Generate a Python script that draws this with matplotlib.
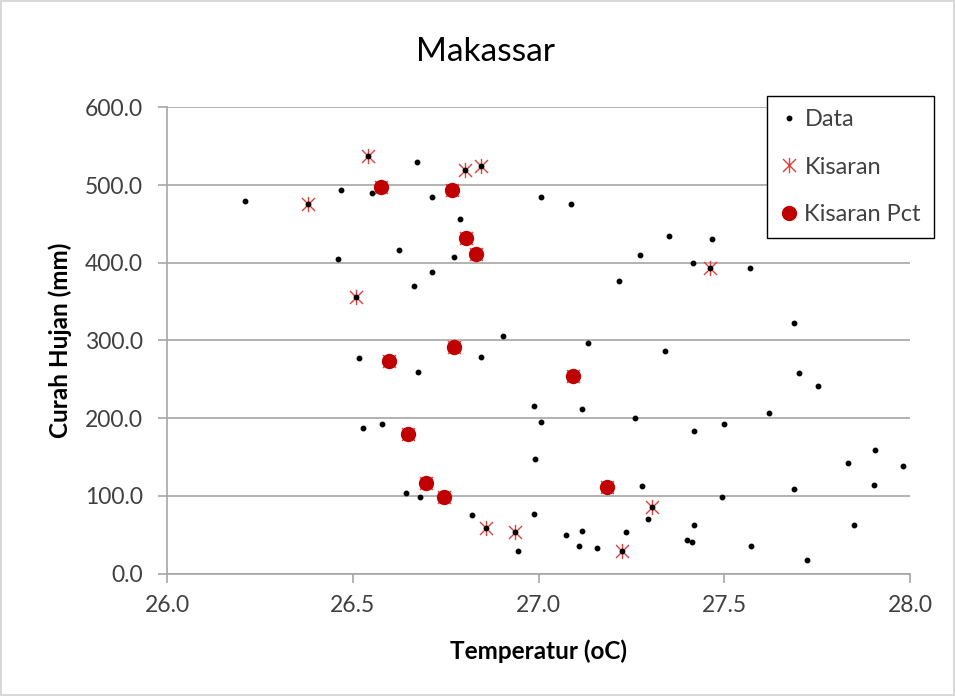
import matplotlib
matplotlib.use('Agg')
import matplotlib.pyplot as plt
from matplotlib.path import Path
import numpy as np

plt.rcParams['font.family'] = ['Lato', 'DejaVu Sans']

# data bulanan: temperatur (oC) dan curah hujan (mm)
data_temp = [26.209, 26.378, 26.469, 26.552, 26.576, 26.541, 26.672, 26.624, 26.459, 26.663,
             26.508, 26.802, 26.845, 26.766, 26.714, 27.005, 27.087, 26.787, 26.804, 26.831,
             26.773, 26.714, 27.215, 27.274, 26.904, 27.350, 27.468, 27.416, 27.461, 27.568,
             27.688, 26.517, 26.596, 26.675, 26.527, 26.579, 26.647, 26.642, 26.680, 26.772,
             26.845, 27.132, 27.093, 26.987, 27.118, 27.007, 27.260, 26.990, 26.697, 26.744,
             27.183, 27.278, 26.821, 26.857, 26.936, 26.987, 26.945, 27.073, 27.118, 27.108,
             27.156, 27.225, 27.235, 27.306, 27.295, 27.339, 27.702, 27.751, 27.619, 27.419,
             27.499, 27.906, 27.833, 27.982, 27.902, 27.688, 27.495, 27.419, 27.399, 27.412,
             27.850, 27.571, 27.722]
data_rain = [480, 476, 494, 490, 498, 537, 530, 416, 405, 370,
             356, 519, 525, 494, 484, 485, 475, 456, 432, 411,
             408, 388, 377, 410, 306, 434, 431, 400, 393, 393,
             322, 278, 273, 259, 187, 193, 180, 103, 99, 292,
             279, 297, 254, 215, 212, 195, 200, 147, 116, 98,
             111, 113, 75, 59, 54, 76, 29, 50, 55, 35,
             33, 29, 53, 85, 70, 286, 258, 241, 207, 184,
             193, 159, 142, 139, 114, 109, 98, 63, 43, 40,
             63, 35, 18]

kisaran_temp = [26.541, 26.378, 26.508, 26.802, 26.845, 27.461, 26.857, 26.936, 27.225, 27.306,
                26.576, 26.766, 26.804, 26.831, 26.596, 26.772, 27.093, 26.647, 26.697, 26.744, 27.183]
kisaran_rain = [537, 476, 356, 519, 525, 393, 59, 54, 29, 85,
                498, 494, 432, 411, 273, 292, 254, 180, 116, 98, 111]

pct_temp = [26.576, 26.766, 26.804, 26.831, 26.596, 26.772, 27.093, 26.647, 26.697, 26.744, 27.183]
pct_rain = [498, 494, 432, 411, 273, 292, 254, 180, 116, 98, 111]

# bintang ala excel: garis tegak + silang
star = Path([(0, -1), (0, 1), (-0.85, -0.85), (0.85, 0.85), (-0.85, 0.85), (0.85, -0.85)],
            [Path.MOVETO, Path.LINETO, Path.MOVETO, Path.LINETO, Path.MOVETO, Path.LINETO])

fig = plt.figure(figsize=(9.55, 6.96), dpi=100)
fig.patch.set_edgecolor('#D9D9D9')
fig.patch.set_linewidth(1.5)
ax = fig.add_axes([0.1752, 0.176, 0.7777, 0.6698])

ax.plot(kisaran_temp, kisaran_rain, linestyle='none', marker=star, markersize=11,
        markeredgecolor='#E0403C', markerfacecolor='none', markeredgewidth=1.0,
        label='Kisaran', zorder=3)
ax.plot(data_temp, data_rain, linestyle='none', marker='o', markersize=3.2,
        color='black', label='Data', zorder=4)
ax.plot(pct_temp, pct_rain, linestyle='none', marker='o', markersize=10,
        color='#C00000', markeredgecolor='#C00000', label='Kisaran Pct', zorder=5)

ax.set_xlim(26.0, 28.0)
ax.set_ylim(0, 600)
ax.set_xticks(np.arange(26.0, 28.01, 0.5))
ax.set_yticks(np.arange(0, 601, 100))
ax.xaxis.set_major_formatter(matplotlib.ticker.FormatStrFormatter('%.1f'))
ax.yaxis.set_major_formatter(matplotlib.ticker.FormatStrFormatter('%.1f'))
ax.yaxis.grid(True, color='#A6A6A6', linewidth=1.2)
ax.set_axisbelow(True)
for s in ['top', 'right']:
    ax.spines[s].set_visible(False)
for s in ['left', 'bottom']:
    ax.spines[s].set_color('#A6A6A6')
    ax.spines[s].set_linewidth(1.2)
ax.tick_params(axis='both', colors='#A6A6A6', labelcolor='#404040', labelsize=16.5,
               length=6.5, width=1.2)
ax.tick_params(axis='y', pad=11)
ax.tick_params(axis='x', pad=9)

fig.text(0.508, 0.9253, 'Makassar', fontsize=24, ha='center', va='center')
ax.set_xlabel('Temperatur (oC)', fontsize=17.5, fontweight='bold', va='center')
ax.set_ylabel('Curah Hujan (mm)', fontsize=17.5, fontweight='bold', va='center')
ax.xaxis.set_label_coords(0.5, -0.166)
ax.yaxis.set_label_coords(-0.1445, 0.501)

h, l = ax.get_legend_handles_labels()
order = [1, 0, 2]
leg = fig.legend([h[i] for i in order], [l[i] for i in order], loc='upper left',
                 bbox_to_anchor=(766.7 / 955, 1 - 96 / 696), fontsize=17, frameon=True,
                 fancybox=False, edgecolor='black', framealpha=1,
                 labelspacing=1.13, handlelength=0.8, handletextpad=0.25,
                 borderpad=0.55, borderaxespad=0)
leg.get_frame().set_linewidth(1.0)
for t in leg.get_texts():
    t.set_color('#404040')

fig.savefig('out.png', dpi=100)
